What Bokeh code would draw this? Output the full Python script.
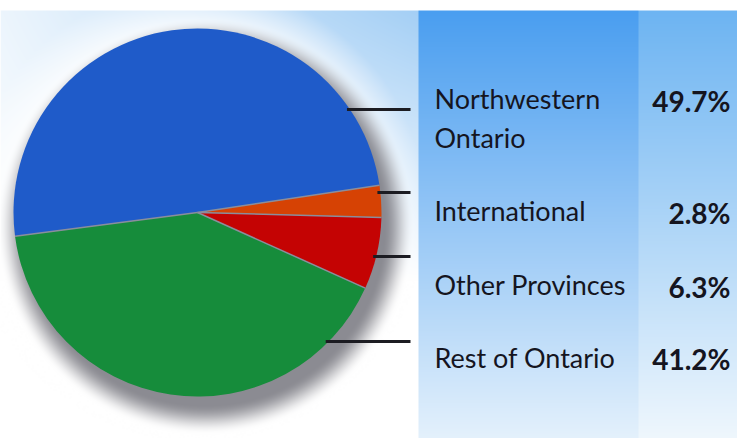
import numpy as np
from bokeh.plotting import figure
from bokeh.models import Range1d
from bokeh.core.properties import value
from bokeh.embed import file_html
from bokeh.resources import INLINE

# ---- data ----
categories = ["Northwestern Ontario", "International", "Other Provinces", "Rest of Ontario"]
label_lines = [["Northwestern", "Ontario"], ["International"], ["Other Provinces"], ["Rest of Ontario"]]
shares = [49.7, 2.8, 6.3, 41.2]
slice_colors = ["#1f5bc9", "#d64204", "#c40303", "#168c3b"]

# ---- layout (reference pixel coordinates, y measured downward) ----
W, H = 737, 438
REF_H = 438
cx, cy_ref, r = 197.0, 212.0, 184.0
anchor_deg = 8.5          # angle of the International / Northwestern boundary
line_y_ref = [109, 192, 256, 341]
line_x_end = 410
label_x = 434
label_base_ref = [98, 210, 284, 357]
label_line_gap = 39
pct_x = 730
pct_base_ref = [100, 212, 286, 358]

def up(y):
    return REF_H - np.asarray(y, dtype=float)

# ---- background image ----
xs = np.arange(W) + 0.5
ys = np.arange(H) + 0.5
X, Y = np.meshgrid(xs, ys)

def rgb(h):
    h = h.lstrip("#")
    return np.array([int(h[i:i + 2], 16) for i in (0, 2, 4)], dtype=float)

white = np.array([255.0, 255.0, 255.0])
c_left = rgb("#a4cff5")
p_top, p_bot = rgb("#4a9ef0"), rgb("#e4f1fc")
q_top, q_bot = rgb("#6db4f2"), rgb("#eff7fd")

img = np.zeros((H, W, 3))
t = np.clip(0.22 + 0.78 * (X - 8) / 410, 0, 1) * np.clip(1 - (Y - 10) / 270, 0, 1)
left = white[None, None, :] * (1 - t[..., None]) + c_left[None, None, :] * t[..., None]
d = np.sqrt((X - cx) ** 2 + (Y - cy_ref) ** 2)
h = np.clip(1 - (d - r) / 45, 0, 1) * 0.85
left = left * (1 - h[..., None]) + white * h[..., None]
ds = np.sqrt((X - cx - 8) ** 2 + (Y - cy_ref - 14) ** 2)
s = np.clip((r + 24 - ds) / 30, 0, 1)
s = s * s * (3 - 2 * s)
a = 0.68 * s
shadow_col = rgb("#55555f")
left = left * (1 - a[..., None]) + shadow_col * a[..., None]
img[:] = left
f = np.clip((Y - 10) / 428, 0, 1)[..., None]
panel = p_top * (1 - f) + p_bot * f
col = q_top * (1 - f) + q_bot * f
mask_p = (X >= 418) & (X < 638)
mask_q = X >= 638
img[mask_p] = panel[mask_p]
img[mask_q] = col[mask_q]
img[Y < 10] = 255

rgba = np.empty((H, W), dtype=np.uint32)
view = rgba.view(dtype=np.uint8).reshape((H, W, 4))
for k in range(3):
    view[..., k] = np.clip(img[..., k], 0, 255).astype(np.uint8)
view[..., 3] = 255
rgba = rgba[::-1].copy()

p = figure(width=W, height=H, output_backend="svg", toolbar_location=None,
           x_range=Range1d(0, W), y_range=Range1d(REF_H - H, REF_H),
           min_border=0)
p.axis.visible = False
p.grid.visible = False
p.outline_line_color = None
p.background_fill_color = "white"
p.border_fill_color = "white"

p.image_rgba(image=[rgba], x=0, y=REF_H - H, dw=W, dh=H)

# ---- pie ----
cy = float(up(cy_ref))
vals = np.array(shares)
total = vals.sum()
start0 = np.radians(anchor_deg) + vals[0] / total * 2 * np.pi
cum = np.concatenate([[0], np.cumsum(vals)])
starts = start0 - cum[:-1] / total * 2 * np.pi
ends = start0 - cum[1:] / total * 2 * np.pi
p.wedge(x=cx, y=cy, radius=r, start_angle=list(starts), end_angle=list(ends),
        direction="clock", fill_color=slice_colors, line_color=None)
p.ray(x=[cx] * len(starts), y=[cy] * len(starts), length=r, angle=list(starts),
      length_units="data", line_color="#8a8e9c", line_width=1.5)

# ---- leader lines ----
ly = up(line_y_ref)
dy = np.array(line_y_ref, dtype=float) - cy_ref
x0 = cx + np.sqrt(r ** 2 - dy ** 2) - 3
p.segment(x0=list(x0), y0=list(ly), x1=[line_x_end] * 4, y1=list(ly),
          line_color="#1c1c22", line_width=3)

# ---- labels ----
tx, ty, tt = [], [], []
for lines, base in zip(label_lines, label_base_ref):
    for i, ln in enumerate(lines):
        tx.append(label_x)
        ty.append(float(up(base + i * label_line_gap)))
        tt.append(ln)
p.text(x=tx, y=ty, text=tt,
       text_font=value("Lato"), text_font_size="27px", text_color="#15151f",
       text_baseline="alphabetic", text_align="left")
p.text(x=[pct_x] * 4, y=list(up(pct_base_ref)), text=[f"{v:.1f}%" for v in shares],
       text_font=value("Lato"), text_font_size="28px", text_font_style="bold",
       text_color="#15151f", text_baseline="alphabetic", text_align="right")

open("out.html", "w").write(file_html(p, INLINE))
